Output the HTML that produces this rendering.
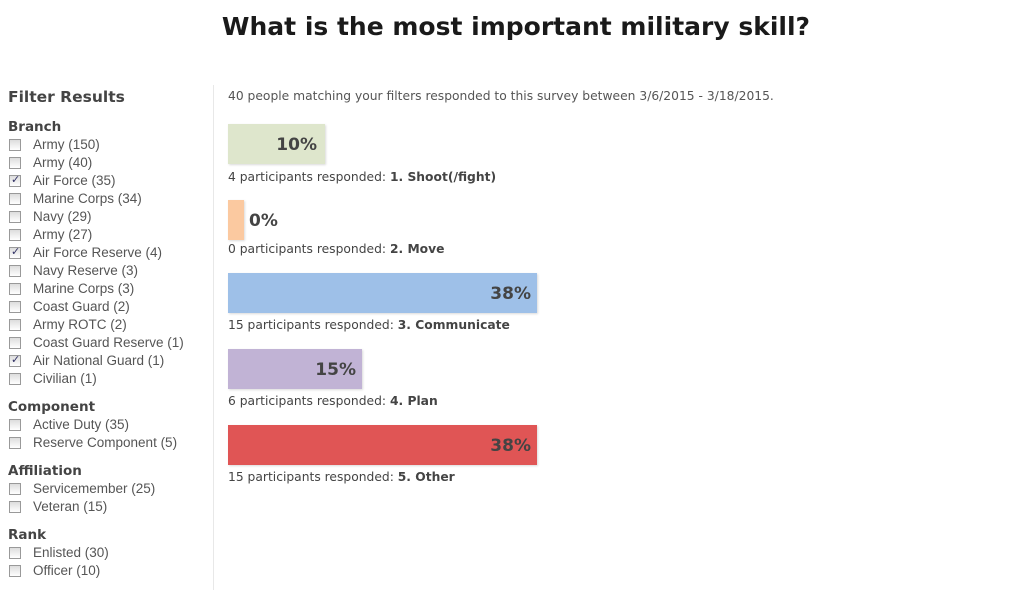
<!DOCTYPE html>
<html><head><meta charset="utf-8"><style>
body{margin:0;width:1032px;height:590px;background:#fff;font-family:"DejaVu Sans","Liberation Sans",sans-serif;color:#444;position:relative;overflow:hidden}
.a{position:absolute;white-space:nowrap}
h1{position:absolute;top:12px;left:0;width:1032px;text-align:center;margin:0;font-size:25px;font-weight:bold;color:#1a1a1a;font-family:"DejaVu Sans",sans-serif}
.s{font-size:13.5px;color:#555;font-family:"Liberation Sans",sans-serif}
.h{font-weight:bold;font-size:13.5px;color:#444}
.cb{position:absolute;left:9px;width:12px;height:12px;border:1px solid #999;background:linear-gradient(#ddd,#fff);box-sizing:border-box}
.ck::after{content:"✓";position:absolute;left:1px;top:-3px;font-size:11px;color:#336}
.bar{position:absolute;left:228px;height:40px;box-shadow:1px 1px 2px rgba(0,0,0,.15)}
.pct{position:absolute;font-weight:bold;font-size:17px;color:#444;top:11px}
.lab{font-size:12.3px;color:#444}
</style></head><body>
<h1>What is the most important military skill?</h1>
<div class="a" style="left:8px;top:88px;font-weight:bold;font-size:15.5px;color:#444">Filter Results</div>
<div class="a" style="left:213px;top:85px;width:1px;height:505px;background:#e8e8e8"></div>
<div class="a h" style="left:8px;top:119px">Branch</div>
<div class="cb" style="top:139px"></div><div class="a s" style="left:33px;top:137px">Army (150)</div>
<div class="cb" style="top:157px"></div><div class="a s" style="left:33px;top:155px">Army (40)</div>
<div class="cb ck" style="top:175px"></div><div class="a s" style="left:33px;top:173px">Air Force (35)</div>
<div class="cb" style="top:193px"></div><div class="a s" style="left:33px;top:191px">Marine Corps (34)</div>
<div class="cb" style="top:211px"></div><div class="a s" style="left:33px;top:209px">Navy (29)</div>
<div class="cb" style="top:229px"></div><div class="a s" style="left:33px;top:227px">Army (27)</div>
<div class="cb ck" style="top:247px"></div><div class="a s" style="left:33px;top:245px">Air Force Reserve (4)</div>
<div class="cb" style="top:265px"></div><div class="a s" style="left:33px;top:263px">Navy Reserve (3)</div>
<div class="cb" style="top:283px"></div><div class="a s" style="left:33px;top:281px">Marine Corps (3)</div>
<div class="cb" style="top:301px"></div><div class="a s" style="left:33px;top:299px">Coast Guard (2)</div>
<div class="cb" style="top:319px"></div><div class="a s" style="left:33px;top:317px">Army ROTC (2)</div>
<div class="cb" style="top:337px"></div><div class="a s" style="left:33px;top:335px">Coast Guard Reserve (1)</div>
<div class="cb ck" style="top:355px"></div><div class="a s" style="left:33px;top:353px">Air National Guard (1)</div>
<div class="cb" style="top:373px"></div><div class="a s" style="left:33px;top:371px">Civilian (1)</div>
<div class="a h" style="left:8px;top:399px">Component</div>
<div class="cb" style="top:419px"></div><div class="a s" style="left:33px;top:417px">Active Duty (35)</div>
<div class="cb" style="top:437px"></div><div class="a s" style="left:33px;top:435px">Reserve Component (5)</div>
<div class="a h" style="left:8px;top:463px">Affiliation</div>
<div class="cb" style="top:483px"></div><div class="a s" style="left:33px;top:481px">Servicemember (25)</div>
<div class="cb" style="top:501px"></div><div class="a s" style="left:33px;top:499px">Veteran (15)</div>
<div class="a h" style="left:8px;top:527px">Rank</div>
<div class="cb" style="top:547px"></div><div class="a s" style="left:33px;top:545px">Enlisted (30)</div>
<div class="cb" style="top:565px"></div><div class="a s" style="left:33px;top:563px">Officer (10)</div>

<div class="a lab" style="left:228px;top:89px;color:#555">40 people matching your filters responded to this survey between 3/6/2015 - 3/18/2015.</div>

<div class="bar" style="top:124px;width:97px;background:#dee6cc"><span class="pct" style="right:8px">10%</span></div>
<div class="a lab" style="left:228px;top:170px">4 participants responded: <b>1. Shoot(/fight)</b></div>
<div class="bar" style="top:200px;width:16px;background:#fbc9a0"><span class="pct" style="left:21px">0%</span></div>
<div class="a lab" style="left:228px;top:242px">0 participants responded: <b>2. Move</b></div>
<div class="bar" style="top:273px;width:309px;background:#9ec0e8"><span class="pct" style="right:6px">38%</span></div>
<div class="a lab" style="left:228px;top:318px">15 participants responded: <b>3. Communicate</b></div>
<div class="bar" style="top:349px;width:134px;background:#c1b3d5"><span class="pct" style="right:6px">15%</span></div>
<div class="a lab" style="left:228px;top:394px">6 participants responded: <b>4. Plan</b></div>
<div class="bar" style="top:425px;width:309px;background:#e05555"><span class="pct" style="right:6px">38%</span></div>
<div class="a lab" style="left:228px;top:470px">15 participants responded: <b>5. Other</b></div>
</body></html>
